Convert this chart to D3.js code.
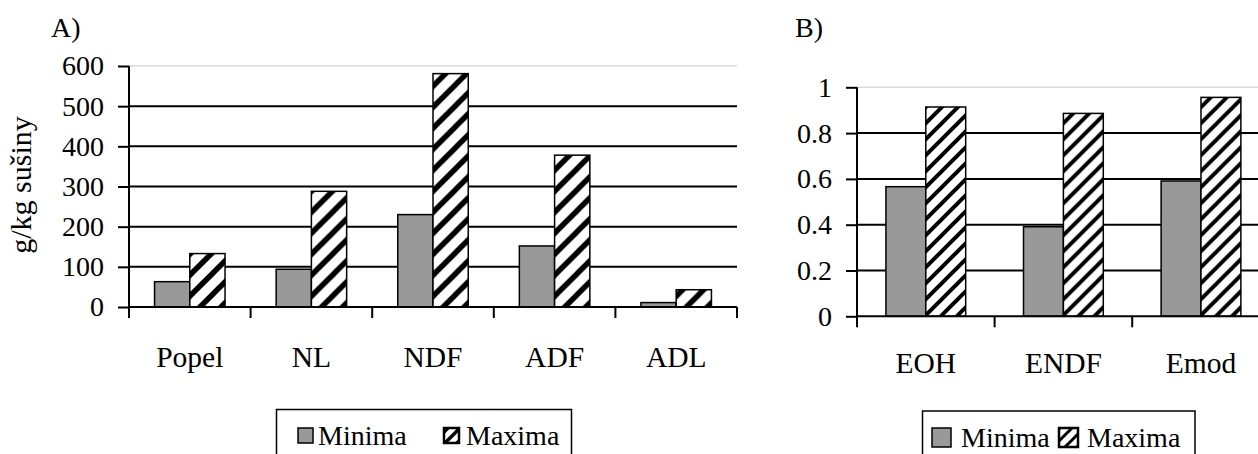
<!DOCTYPE html>
<html><head><meta charset="utf-8">
<script src="https://cdn.jsdelivr.net/npm/d3@7"></script>
<style>
html,body{margin:0;padding:0;background:#fff;}
svg{display:block;}
text{font-family:"Liberation Serif","Times New Roman",serif;fill:#000;}
</style></head>
<body>
<svg id="c" width="1258" height="454"></svg>
<script>
// ---- data ----
const series = ["Minima", "Maxima"];
const catsA = ["Popel", "NL", "NDF", "ADF", "ADL"];
const minA = [63, 94, 230, 152, 11];
const maxA = [133, 288, 581, 378, 43];
const ticksA = [0, 100, 200, 300, 400, 500, 600];
const catsB = ["EOH", "ENDF", "Emod"];
const minB = [0.566, 0.391, 0.591];
const maxB = [0.914, 0.886, 0.956];
const ticksB = [0, 0.2, 0.4, 0.6, 0.8, 1];

const svg = d3.select("#c");
const defs = svg.append("defs");
function hatch(id, P, w) {
  const p = defs.append("pattern").attr("id", id).attr("patternUnits", "userSpaceOnUse")
    .attr("width", P).attr("height", P);
  p.append("rect").attr("width", P).attr("height", P).attr("fill", "#fff");
  p.append("path")
    .attr("d", `M0,${P} L${P},0 M${-P/2},${P/2} L${P/2},${-P/2} M${P/2},${1.5*P} L${1.5*P},${P/2}`)
    .attr("stroke", "#000").attr("stroke-width", w).attr("fill", "none");
}
hatch("hA", 21, 5.5);
hatch("hB", 16, 4);
hatch("hAs", 12, 3.5);
hatch("hBs", 12, 3);

const FS = 28;

function panel(o) {
  const g = svg.append("g");
  const x0 = d3.scaleBand().domain(o.cats).range([o.left, o.right]).paddingInner(0).paddingOuter(0);
  const x1 = d3.scaleBand().domain(series).range([0, x0.bandwidth()]).paddingInner(0).paddingOuter(0.725);
  const y = d3.scaleLinear().domain(o.domain).range([o.bottom, o.top]);

  g.selectAll("line.grid").data(o.ticks.filter(t => t > 0)).join("line")
    .attr("x1", o.left).attr("x2", o.gridRight)
    .attr("y1", d => y(d)).attr("y2", d => y(d))
    .attr("stroke", d => d === o.domain[1] ? "#d8d8d8" : "#000")
    .attr("stroke-width", d => d === o.domain[1] ? 1.5 : 2);

  const rows = o.cats.map((c, i) => ({c, v: [o.min[i], o.max[i]]}));
  const grp = g.selectAll("g.cat").data(rows).join("g").attr("transform", d => `translate(${x0(d.c)},0)`);
  grp.selectAll("rect").data(d => series.map((s, k) => ({s, v: d.v[k]}))).join("rect")
    .attr("x", d => x1(d.s)).attr("width", x1.bandwidth())
    .attr("y", d => y(d.v)).attr("height", d => y(0) - y(d.v))
    .attr("fill", d => d.s === "Minima" ? "#999999" : `url(#${o.hatch})`)
    .attr("stroke", "#000").attr("stroke-width", 1.5);

  const ya = g.append("g").attr("transform", `translate(${o.left},0)`)
    .call(d3.axisLeft(y).tickValues(o.ticks).tickSize(11).tickPadding(o.tickPad).tickFormat(o.fmt));
  ya.select(".domain").remove();
  ya.selectAll(".tick line").attr("stroke", "#000").attr("stroke-width", 2);
  ya.selectAll("text").attr("font-size", FS);
  g.append("line").attr("x1", o.left).attr("x2", o.left).attr("y1", o.top).attr("y2", o.bottom + 11)
    .attr("stroke", "#000").attr("stroke-width", 2);
  g.append("line").attr("x1", o.left).attr("x2", o.gridRight).attr("y1", o.bottom).attr("y2", o.bottom)
    .attr("stroke", "#000").attr("stroke-width", 2);
  g.selectAll("line.xt").data(o.cats).join("line")
    .attr("x1", (d, i) => o.left + (i + 1) * x0.step()).attr("x2", (d, i) => o.left + (i + 1) * x0.step())
    .attr("y1", o.bottom).attr("y2", o.bottom + 11)
    .attr("stroke", "#000").attr("stroke-width", 2);
  g.selectAll("text.xl").data(o.cats).join("text")
    .attr("x", d => x0(d) + x0.bandwidth() / 2).attr("y", o.labelY)
    .attr("text-anchor", "middle").attr("font-size", 29.5).text(d => d);

  g.append("text").attr("x", o.titleX).attr("y", 37).attr("font-size", FS).text(o.title);

  const L = o.legend;
  g.append("rect").attr("x", L.x).attr("y", L.y).attr("width", L.w).attr("height", 80)
    .attr("fill", "#fff").attr("stroke", "#000").attr("stroke-width", 1.5);
  series.forEach((s, k) => {
    g.append("rect").attr("x", L.mx[k]).attr("y", L.my).attr("width", L.ms).attr("height", L.ms)
      .attr("fill", k === 0 ? "#999999" : `url(#${o.hatchS})`).attr("stroke", "#000").attr("stroke-width", k === 0 ? 1.5 : 2.5);
    g.append("text").attr("x", L.tx[k]).attr("y", L.ty).attr("font-size", FS).text(s);
  });
}

panel({
  cats: catsA, min: minA, max: maxA, ticks: ticksA, domain: [0, 600],
  left: 129, right: 737, gridRight: 737, top: 66, bottom: 307,
  tickPad: 14, fmt: d3.format("d"), labelY: 367, hatch: "hA", hatchS: "hAs",
  title: "A)", titleX: 51,
  legend: {x: 276.5, y: 409.5, w: 295, mx: [298, 444], my: 428, ms: 15, tx: [318, 466], ty: 445}
});
panel({
  cats: catsB, min: minB, max: maxB, ticks: ticksB, domain: [0, 1],
  left: 857, right: 857 + 3 * 137.6, gridRight: 1258, top: 87.3, bottom: 316.3,
  tickPad: 14, fmt: d => d3.format("")(d), labelY: 373, hatch: "hB", hatchS: "hBs",
  title: "B)", titleX: 795,
  legend: {x: 922.5, y: 411, w: 272.5, mx: [932, 1059], my: 428, ms: 19, tx: [961, 1087], ty: 447}
});

svg.append("text").attr("transform", "translate(31,185) rotate(-90)")
  .attr("text-anchor", "middle").attr("font-size", 30).text("g/kg sušiny");
</script>
</body></html>
